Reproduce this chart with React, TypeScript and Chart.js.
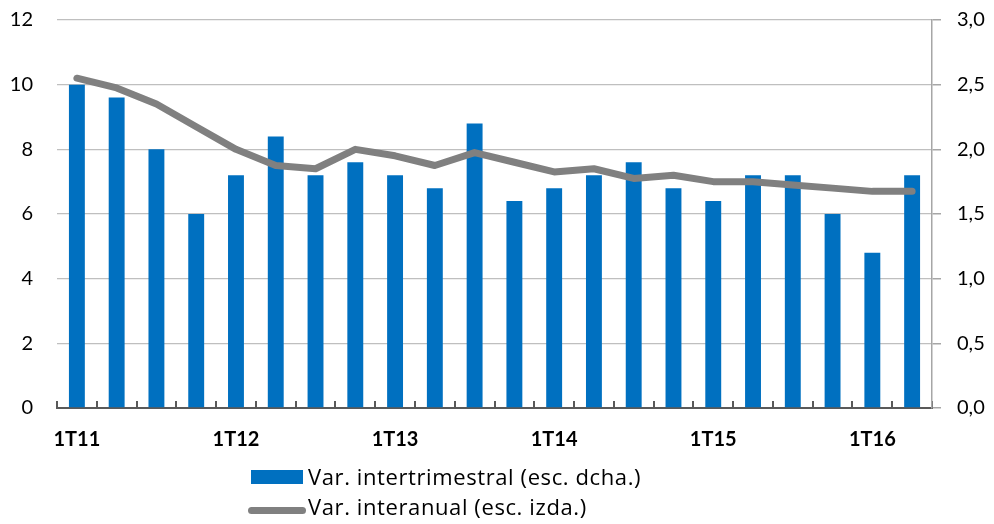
import React, { useEffect, useRef } from 'react';
import { Chart, registerables } from 'chart.js';

Chart.register(...registerables);

const categories = [
  '1T11', '2T11', '3T11', '4T11',
  '1T12', '2T12', '3T12', '4T12',
  '1T13', '2T13', '3T13', '4T13',
  '1T14', '2T14', '3T14', '4T14',
  '1T15', '2T15', '3T15', '4T15',
  '1T16', '2T16',
];

// Var. intertrimestral (right scale)
const quarterlyChange = [
  2.5, 2.4, 2.0, 1.5,
  1.8, 2.1, 1.8, 1.9,
  1.8, 1.7, 2.2, 1.6,
  1.7, 1.8, 1.9, 1.7,
  1.6, 1.8, 1.8, 1.5,
  1.2, 1.8,
];

// Var. interanual (left scale)
const annualChange = [
  10.2, 9.9, 9.4, 8.7,
  8.0, 7.5, 7.4, 8.0,
  7.8, 7.5, 7.9, 7.6,
  7.3, 7.4, 7.1, 7.2,
  7.0, 7.0, 6.9, 6.8,
  6.7, 6.7,
];

const seriesLabels = ['Var. intertrimestral (esc. dcha.)', 'Var. interanual (esc. izda.)'];

const FONT = 'Lato, "Open Sans", sans-serif';
const LEGEND_FONT = '"Open Sans", Lato, sans-serif';

export default function App() {
  const canvasRef = useRef<HTMLCanvasElement | null>(null);

  useEffect(() => {
    const canvas = canvasRef.current;
    if (!canvas) return;
    const chart = new Chart(canvas, {
      type: 'bar',
      data: {
        labels: categories,
        datasets: [
          {
            type: 'bar',
            label: seriesLabels[0],
            data: quarterlyChange,
            yAxisID: 'y1',
            backgroundColor: '#0070C0',
            categoryPercentage: 1,
            barPercentage: 0.4,
            order: 1,
          },
          {
            type: 'line',
            label: seriesLabels[1],
            data: annualChange,
            yAxisID: 'y',
            borderColor: '#808080',
            backgroundColor: '#808080',
            borderWidth: 7,
            pointRadius: 0,
            tension: 0,
            borderCapStyle: 'round',
            borderJoinStyle: 'round',
            order: 0,
          } as any,
        ],
      },
      options: {
        responsive: false,
        animation: false,
        layout: { padding: { top: 20, bottom: 76, left: 0, right: 0 } },
        plugins: {
          legend: { display: false },
          tooltip: { enabled: false },
        },
        scales: {
          x: {
            offset: true,
            grid: {
              offset: true,
              drawOnChartArea: false,
              drawTicks: true,
              tickLength: -7,
              color: '#595959',
              lineWidth: 2,
            },
            border: { display: true, color: '#595959', width: 2 },
            ticks: {
              autoSkip: false,
              maxRotation: 0,
              minRotation: 0,
              padding: 27,
              color: '#000000',
              font: { family: FONT, size: 20, weight: 'bold' },
              callback: (_v: any, i: number) => (categories[i].startsWith('1T') ? categories[i] : ''),
            },
            afterFit: (scale: any) => {
              scale.height = 40;
            },
          },
          y: {
            position: 'left',
            min: 0,
            max: 12,
            ticks: {
              stepSize: 2,
              padding: 24,
              color: '#000000',
              font: { family: FONT, size: 20 },
            },
            grid: {
              color: '#BFBFBF',
              lineWidth: 1.3,
              drawTicks: false,
            },
            border: { display: false },
            afterFit: (scale: any) => {
              scale.width = 57;
              scale.paddingTop = 0;
              scale.paddingBottom = 0;
            },
          },
          y1: {
            position: 'right',
            min: 0,
            max: 3,
            ticks: {
              stepSize: 0.5,
              padding: 16,
              color: '#000000',
              font: { family: FONT, size: 20 },
              callback: (v: any) => Number(v).toFixed(1).replace('.', ','),
            },
            grid: {
              drawOnChartArea: false,
              drawTicks: true,
              tickLength: 9,
              color: '#A6A6A6',
              lineWidth: 1.5,
            },
            border: { display: true, color: '#A6A6A6', width: 1.5 },
            afterFit: (scale: any) => {
              scale.width = 62;
              scale.paddingTop = 0;
              scale.paddingBottom = 0;
            },
          },
        },
      },
    });
    return () => chart.destroy();
  }, []);

  const textStyle: React.CSSProperties = {
    position: 'absolute',
    left: 308,
    fontFamily: LEGEND_FONT,
    fontSize: 22,
    letterSpacing: '0.6px',
    lineHeight: '28px',
    color: '#000000',
    whiteSpace: 'nowrap',
  };

  return (
    <div style={{ position: 'fixed', left: 0, top: 0, width: 994, height: 524, background: '#ffffff' }}>
      <canvas ref={canvasRef} width={994} height={524} style={{ position: 'absolute', left: 0, top: 0 }} />
      <div style={{ position: 'absolute', left: 251, top: 470, width: 52, height: 14, background: '#0070C0' }} />
      <div style={{ ...textStyle, top: 462 }}>{seriesLabels[0]}</div>
      <div style={{ position: 'absolute', left: 248, top: 506.5, width: 58, height: 7, borderRadius: 3.5, background: '#808080' }} />
      <div style={{ ...textStyle, top: 492 }}>{seriesLabels[1]}</div>
    </div>
  );
}
